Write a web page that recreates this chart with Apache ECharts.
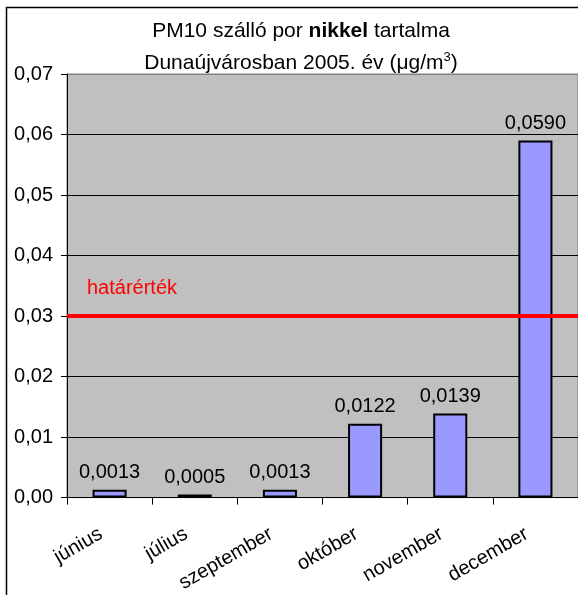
<!DOCTYPE html>
<html>
<head>
<meta charset="utf-8">
<script src="https://cdn.jsdelivr.net/npm/echarts@6/dist/echarts.min.js"></script>
<style>
  html, body { margin: 0; padding: 0; background: #fff; }
  #chart { width: 578px; height: 595px; }
</style>
</head>
<body>
<div id="chart"></div>
<script>
// Monthly nickel content of PM10 dust, Dunaújváros 2005 (µg/m3)
const months = ['június', 'július', 'szeptember', 'október', 'november', 'december'];
const nickel = [0.0013, 0.0005, 0.0013, 0.0122, 0.0139, 0.0590];
const limitValue = 0.03;
const limitLabel = 'határérték';

const comma = (v, d) => v.toFixed(d).replace('.', ',');
const font = 'Liberation Sans, Arial, sans-serif';
const fs = 20;

const chart = echarts.init(document.getElementById('chart'));
chart.setOption({
  backgroundColor: '#ffffff',
  animation: false,
  title: {
    left: 296,
    top: 10,
    textAlign: 'center',
    text: '{a|PM10 szálló por }{b|nikkel}{a| tartalma}\n{a|Dunaújvárosban 2005. év (μg/m}{s|3}{a|)}',
    textStyle: {
      fontWeight: 'normal',
      rich: {
        a: { fontFamily: font, fontSize: 21, color: '#000', fontWeight: 'normal', lineHeight: 32 },
        b: { fontFamily: font, fontSize: 21, color: '#000', fontWeight: 'bold', lineHeight: 32 },
        s: { fontFamily: font, fontSize: 13, color: '#000', fontWeight: 'normal', padding: [0, 0, 12, 0], lineHeight: 32 }
      }
    }
  },
  graphic: [{
    type: 'rect',
    shape: { x: 6.5, y: 7.5, width: 640, height: 640 },
    style: { fill: 'none', stroke: '#000', lineWidth: 1.5 },
    z: 100
  }],
  grid: {
    left: 67, top: 74, width: 518, height: 425,
    show: true, backgroundColor: '#c0c0c0', borderColor: '#808080', borderWidth: 1
  },
  xAxis: {
    type: 'category',
    data: months,
    axisLine: { lineStyle: { color: '#000', width: 1 } },
    axisTick: { show: true, length: 7, lineStyle: { color: '#000' } },
    axisLabel: {
      rotate: 30, margin: 30, padding: [0, 10, 0, 0],
      fontFamily: font, fontSize: fs, color: '#000'
    }
  },
  yAxis: {
    type: 'value',
    min: 0, max: 0.07, interval: 0.01,
    axisLine: { show: true, lineStyle: { color: '#000', width: 1 } },
    axisTick: { show: true, length: 6, lineStyle: { color: '#000' } },
    splitLine: {
      show: true,
      lineStyle: { color: ['#000', '#000', '#000', '#000', '#000', '#000', '#000', '#808080'], width: 1 }
    },
    axisLabel: {
      margin: 14, fontFamily: font, fontSize: fs, color: '#000',
      formatter: v => comma(v, 2)
    }
  },
  series: [{
    type: 'bar',
    data: nickel,
    barWidth: '40%',
    itemStyle: { color: '#9999ff', borderColor: '#000', borderWidth: 2 },
    label: {
      show: true, position: 'top', distance: 7,
      fontFamily: font, fontSize: fs, color: '#000',
      formatter: p => comma(p.value, 4)
    },
    markLine: {
      silent: true,
      symbol: 'none',
      data: [{ yAxis: limitValue }],
      lineStyle: { color: '#ff0000', width: 4, type: 'solid' },
      label: {
        show: true,
        position: 'insideStartTop',
        formatter: limitLabel,
        fontFamily: font, fontSize: fs, color: '#ff0000',
        distance: [20, 18]
      },
      z: 10
    }
  }]
});
</script>
</body>
</html>
